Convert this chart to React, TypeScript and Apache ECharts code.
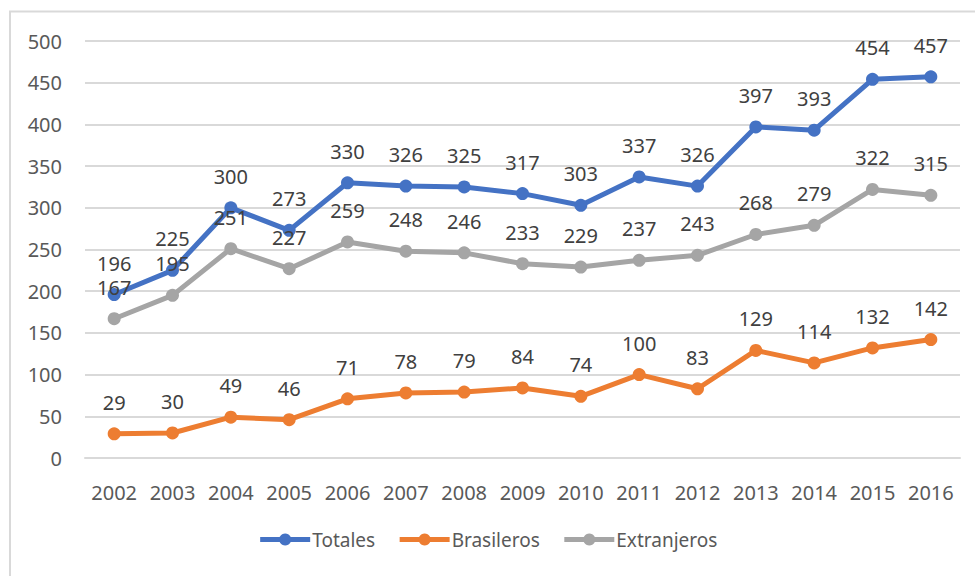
import React, { useEffect, useRef } from "react";
import * as echarts from "echarts";

const years = ["2002","2003","2004","2005","2006","2007","2008","2009","2010","2011","2012","2013","2014","2015","2016"];
const totales = [196,225,300,273,330,326,325,317,303,337,326,397,393,454,457];
const brasileros = [29,30,49,46,71,78,79,84,74,100,83,129,114,132,142];
const extranjeros = [167,195,251,227,259,248,246,233,229,237,243,268,279,322,315];

const FONT = "Noto Sans";

function mk(name: string, data: number[], color: string) {
  return {
    name,
    type: "line",
    data,
    symbol: "circle",
    symbolSize: 13,
    lineStyle: { width: 5, color },
    itemStyle: { color },
    label: {
      show: true,
      position: "top",
      distance: 15,
      color: "#404040",
      fontSize: 20,
      fontFamily: FONT,
    },
  };
}

export default function App() {
  const ref = useRef<HTMLDivElement>(null);
  useEffect(() => {
    const chart = echarts.init(ref.current!, null, { renderer: "svg" });
    chart.setOption({
      animation: false,
      backgroundColor: "#ffffff",
      textStyle: { fontFamily: FONT },
      graphic: [
        {
          type: "rect",
          shape: { x: 10, y: 11.5, width: 1000, height: 600 },
          style: { fill: "none", stroke: "#D9D9D9", lineWidth: 2 },
          silent: true,
        },
      ],
      grid: { left: 85, right: 15, top: 41, bottom: 118 },
      legend: {
        bottom: 22,
        left: "center",
        itemWidth: 50,
        itemHeight: 15,
        itemGap: 22,
        lineStyle: { width: 5 },
        textStyle: { fontSize: 19, color: "#595959", fontFamily: FONT, padding: [0, 0, 0, -3] },
        data: ["Totales", "Brasileros", "Extranjeros"],
      },
      xAxis: {
        type: "category",
        data: years,
        boundaryGap: true,
        axisLine: { show: true, lineStyle: { color: "#D9D9D9", width: 2 } },
        axisTick: { show: false },
        axisLabel: { color: "#595959", fontSize: 20, margin: 24, interval: 0, fontFamily: FONT },
      },
      yAxis: {
        type: "value",
        min: 0,
        max: 500,
        interval: 50,
        axisLine: { show: false },
        axisTick: { show: false },
        axisLabel: { color: "#595959", fontSize: 20, margin: 23, fontFamily: FONT },
        splitLine: { lineStyle: { color: "#D9D9D9", width: 2 } },
      },
      series: [
        mk("Totales", totales, "#4472C4"),
        mk("Brasileros", brasileros, "#ED7D31"),
        mk("Extranjeros", extranjeros, "#A5A5A5"),
      ],
    });
    return () => chart.dispose();
  }, []);
  return (
    <div
      ref={ref}
      style={{ position: "fixed", left: 0, top: 0, width: 975, height: 576 }}
    />
  );
}
